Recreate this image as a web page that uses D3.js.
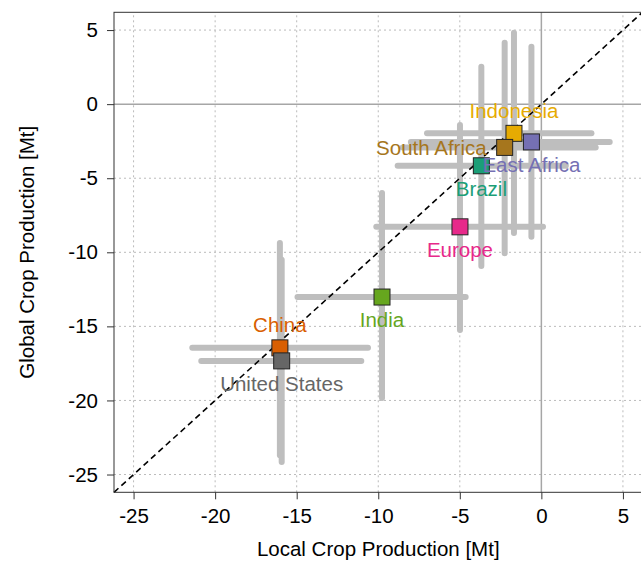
<!DOCTYPE html>
<html>
<head>
<meta charset="utf-8">
<script src="https://cdn.jsdelivr.net/npm/d3@7"></script>
<style>
  body { margin: 0; background: #fff; }
  svg { display: block; font-family: "Liberation Sans", Arial, Helvetica, sans-serif; }
</style>
</head>
<body>
<div id="chart"></div>
<script>
// DATA
const regions = ["Brazil", "China", "East Africa", "Europe", "India", "Indonesia", "South Africa", "United States"];
const localMid = [-3.68, -16.03, -0.61, -4.99, -9.77, -1.68, -2.25, -15.92];
const globalMid = [-4.16, -16.45, -2.55, -8.28, -13.02, -1.97, -2.92, -17.33];
const localLo = [-8.81, -21.4, -8.0, -10.12, -14.95, -7.01, -8.5, -20.85];
const localHi = [1.5, -10.63, 4.19, 0.1, -4.64, 3.07, 3.33, -11.04];
const globalLo = [-10.93, -23.7, -8.95, -15.25, -19.84, -8.7, -10.07, -24.16];
const globalHi = [2.53, -9.38, 3.88, -1.41, -6.0, 4.82, 4.15, -10.5];
const labelSide = ["below", "above", "below", "below", "below", "above", "left", "below"];
const tickValues = [-25, -20, -15, -10, -5, 0, 5];
const axisDomain = [-26.2, 6.2];

const data = regions.map((r, i) => ({
  name: r,
  x: localMid[i], y: globalMid[i],
  x0: localLo[i], x1: localHi[i],
  y0: globalLo[i], y1: globalHi[i],
  side: labelSide[i],
}));

const width = 641, height = 562;
const margin = { top: 12.3, left: 114, right: -1.5, bottom: 69.7 };
const fontSize = "20.5px";

const svg = d3.select("#chart").append("svg")
  .attr("width", width).attr("height", height);

const x = d3.scaleLinear().domain(axisDomain).range([margin.left, width - margin.right]);
const y = d3.scaleLinear().domain(axisDomain).range([height - margin.bottom, margin.top]);

const color = d3.scaleOrdinal().domain(regions).range(d3.schemeDark2);

// grid
const grid = svg.append("g");
grid.selectAll(".gx").data(tickValues.filter(d => d !== 0)).join("line")
  .attr("x1", d => x(d)).attr("x2", d => x(d))
  .attr("y1", y.range()[0]).attr("y2", y.range()[1])
  .attr("stroke", "#bbb").attr("stroke-dasharray", "2,3");
grid.selectAll(".gy").data(tickValues.filter(d => d !== 0)).join("line")
  .attr("y1", d => y(d)).attr("y2", d => y(d))
  .attr("x1", x.range()[0]).attr("x2", x.range()[1])
  .attr("stroke", "#bbb").attr("stroke-dasharray", "2,3");
// zero lines
grid.append("line")
  .attr("x1", x(0)).attr("x2", x(0)).attr("y1", y.range()[0]).attr("y2", y.range()[1])
  .attr("stroke", "#a6a6a6").attr("stroke-width", 1.5);
grid.append("line")
  .attr("y1", y(0)).attr("y2", y(0)).attr("x1", x.range()[0]).attr("x2", x.range()[1])
  .attr("stroke", "#a6a6a6").attr("stroke-width", 1.5);

// error bars
const bars = svg.append("g")
  .attr("stroke", "#bebebe").attr("stroke-width", 6).attr("stroke-linecap", "round");
bars.selectAll(".h").data(data).join("line")
  .attr("x1", d => x(d.x0)).attr("x2", d => x(d.x1))
  .attr("y1", d => y(d.y)).attr("y2", d => y(d.y));
bars.selectAll(".v").data(data).join("line")
  .attr("class", "v")
  .attr("x1", d => x(d.x)).attr("x2", d => x(d.x))
  .attr("y1", d => y(d.y0)).attr("y2", d => y(d.y1));

// 1:1 line
svg.append("line")
  .attr("x1", x(axisDomain[0])).attr("y1", y(axisDomain[0]))
  .attr("x2", x(axisDomain[1])).attr("y2", y(axisDomain[1]))
  .attr("stroke", "#000").attr("stroke-width", 1.6).attr("stroke-dasharray", "6,4");

// points
const size = 16;
svg.append("g").selectAll("rect").data(data).join("rect")
  .attr("x", d => x(d.x) - size / 2).attr("y", d => y(d.y) - size / 2)
  .attr("width", size).attr("height", size)
  .attr("fill", d => color(d.name))
  .attr("stroke", "#222").attr("stroke-width", 1);

// labels
svg.append("g").selectAll("text").data(data).join("text")
  .attr("x", d => d.side === "left" ? x(d.x) - 18 : x(d.x))
  .attr("y", d => d.side === "above" ? y(d.y) - 23 : d.side === "below" ? y(d.y) + 23 : y(d.y))
  .attr("dy", "0.35em")
  .attr("text-anchor", d => d.side === "left" ? "end" : "middle")
  .attr("fill", d => color(d.name))
  .style("font-size", fontSize)
  .text(d => d.name);

// frame
svg.append("rect")
  .attr("x", x.range()[0]).attr("y", y.range()[1])
  .attr("width", x.range()[1] - x.range()[0]).attr("height", y.range()[0] - y.range()[1])
  .attr("fill", "none").attr("stroke", "#333").attr("stroke-width", 1);

// axes
const fmt = d => String(d);
const xAxis = svg.append("g")
  .attr("transform", `translate(0,${y.range()[0]})`)
  .call(d3.axisBottom(x).tickValues(tickValues).tickFormat(fmt).tickSize(7).tickPadding(9).tickSizeOuter(0));
const yAxis = svg.append("g")
  .attr("transform", `translate(${x.range()[0]},0)`)
  .call(d3.axisLeft(y).tickValues(tickValues).tickFormat(fmt).tickSize(7).tickPadding(9).tickSizeOuter(0));
[xAxis, yAxis].forEach(a => {
  a.select(".domain").remove();
  a.selectAll(".tick line").attr("stroke", "#333");
  a.selectAll(".tick text").attr("fill", "#000")
    .style("font-size", fontSize).style("font-family", "'Liberation Sans', Arial, sans-serif");
});

// axis titles
svg.append("text")
  .attr("x", (x.range()[0] + x.range()[1]) / 2).attr("y", 556)
  .attr("text-anchor", "middle").style("font-size", fontSize)
  .text("Local Crop Production [Mt]");
svg.append("text")
  .attr("transform", `translate(34,${(y.range()[0] + y.range()[1]) / 2}) rotate(-90)`)
  .attr("text-anchor", "middle").style("font-size", fontSize)
  .text("Global Crop Production [Mt]");
</script>
</body>
</html>
